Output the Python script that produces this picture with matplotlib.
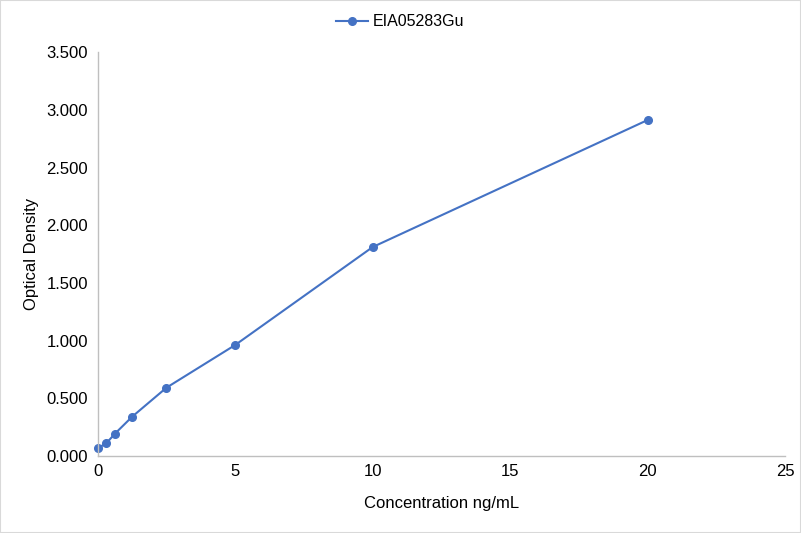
import matplotlib
matplotlib.use('Agg')
import matplotlib.pyplot as plt
from matplotlib.patches import Rectangle
from matplotlib.ticker import FuncFormatter

plt.rcParams['font.family'] = ['Liberation Sans', 'DejaVu Sans']

# Standard curve data
concentration = [0, 0.3125, 0.625, 1.25, 2.5, 5, 10, 20]
optical_density = [0.067, 0.110, 0.193, 0.340, 0.592, 0.962, 1.811, 2.912]
series_name = 'EIA05283Gu'

fig = plt.figure(figsize=(8.01, 5.33), dpi=100)
ax = fig.add_axes([0.122, 0.1445, 0.858, 0.7575])

ax.plot(concentration, optical_density, '-o', color='#4472C4', linewidth=1.5,
        markersize=5.5, label=series_name, clip_on=False)

ax.set_xlim(0, 25)
ax.set_ylim(0, 3.5)
ax.set_xticks([0, 5, 10, 15, 20, 25])
ax.set_yticks([0, 0.5, 1.0, 1.5, 2.0, 2.5, 3.0, 3.5])
ax.yaxis.set_major_formatter(FuncFormatter(lambda v, p: f'{v:.3f}'))

for side in ['top', 'right']:
    ax.spines[side].set_visible(False)
for side in ['left', 'bottom']:
    ax.spines[side].set_color('#BFBFBF')
    ax.spines[side].set_linewidth(1)
ax.tick_params(length=0, labelsize=12, colors='#000000')
ax.tick_params(axis='y', pad=7)
ax.tick_params(axis='x', pad=6)

ax.set_xlabel('Concentration ng/mL', fontsize=12, labelpad=12)
ax.set_ylabel('Optical Density', fontsize=12, labelpad=5)

fig.legend(loc='upper center', bbox_to_anchor=(0.5, 1.0), frameon=False,
           fontsize=11.5, handlelength=2.0, handletextpad=0.3)

# light chart-area border
fig.patches.append(Rectangle((0, 0), 1, 1, transform=fig.transFigure,
                             fill=False, edgecolor='#D9D9D9', linewidth=1.5))

fig.savefig('out.png', dpi=100)
